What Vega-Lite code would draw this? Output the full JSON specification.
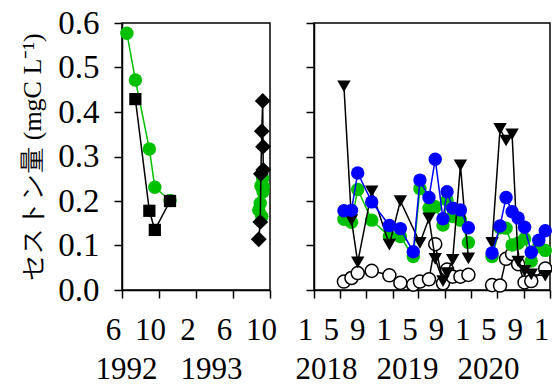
{
  "$schema": "https://vega.github.io/schema/vega-lite/v6.json",
  "padding": {"left": 18, "top": 6, "right": 0, "bottom": 0},
  "background": "white",
  "config": {
    "font": "Times New Roman",
    "view": {"stroke": "#000", "strokeWidth": 1.5},
    "axis": {
      "grid": false,
      "domainColor": "#000",
      "domainWidth": 1.5,
      "tickColor": "#000",
      "tickWidth": 1.5,
      "tickSize": 8,
      "labelFont": "Times New Roman",
      "labelFontSize": 31,
      "labelColor": "#000",
      "titleFont": "Times New Roman",
      "titleFontWeight": "normal",
      "titleColor": "#000"
    }
  },
  "datasets": {
    "early": [
      {"d": "1992-06-17", "s": "G", "v": 0.577, "g": 1},
      {"d": "1992-07-15", "s": "G", "v": 0.472, "g": 1},
      {"d": "1992-08-30", "s": "G", "v": 0.317, "g": 1},
      {"d": "1992-09-17", "s": "G", "v": 0.231, "g": 1},
      {"d": "1992-11-06", "s": "G", "v": 0.201, "g": 1},
      {"d": "1993-08-25", "s": "G", "v": 0.180, "g": 2},
      {"d": "1993-08-30", "s": "G", "v": 0.195, "g": 2},
      {"d": "1993-09-01", "s": "G", "v": 0.234, "g": 2},
      {"d": "1993-09-04", "s": "G", "v": 0.165, "g": 2},
      {"d": "1993-09-07", "s": "G", "v": 0.251, "g": 2},
      {"d": "1993-09-08", "s": "G", "v": 0.221, "g": 2},
      {"d": "1993-09-09", "s": "G", "v": 0.232, "g": 2},
      {"d": "1992-07-15", "s": "S", "v": 0.429, "g": 1},
      {"d": "1992-08-30", "s": "S", "v": 0.178, "g": 1},
      {"d": "1992-09-17", "s": "S", "v": 0.135, "g": 1},
      {"d": "1992-11-06", "s": "S", "v": 0.200, "g": 1},
      {"d": "1993-08-25", "s": "D", "v": 0.114, "g": 2},
      {"d": "1993-08-30", "s": "D", "v": 0.153, "g": 2},
      {"d": "1993-09-01", "s": "D", "v": 0.261, "g": 2},
      {"d": "1993-09-04", "s": "D", "v": 0.357, "g": 2},
      {"d": "1993-09-07", "s": "D", "v": 0.425, "g": 2},
      {"d": "1993-09-08", "s": "D", "v": 0.322, "g": 2},
      {"d": "1993-09-09", "s": "D", "v": 0.270, "g": 2}
    ],
    "recent": [
      {"d": "2018-05-20", "s": "B", "v": 0.178, "g": 1},
      {"d": "2018-06-24", "s": "B", "v": 0.179, "g": 1},
      {"d": "2018-07-23", "s": "B", "v": 0.263, "g": 1},
      {"d": "2018-09-26", "s": "B", "v": 0.198, "g": 1},
      {"d": "2018-12-17", "s": "B", "v": 0.145, "g": 1},
      {"d": "2019-02-06", "s": "B", "v": 0.138, "g": 1},
      {"d": "2019-04-07", "s": "B", "v": 0.086, "g": 1},
      {"d": "2019-05-08", "s": "B", "v": 0.247, "g": 1},
      {"d": "2019-06-19", "s": "B", "v": 0.208, "g": 1},
      {"d": "2019-07-18", "s": "B", "v": 0.294, "g": 1},
      {"d": "2019-08-23", "s": "B", "v": 0.160, "g": 1},
      {"d": "2019-09-11", "s": "B", "v": 0.221, "g": 1},
      {"d": "2019-10-07", "s": "B", "v": 0.184, "g": 1},
      {"d": "2019-11-12", "s": "B", "v": 0.180, "g": 1},
      {"d": "2019-12-19", "s": "B", "v": 0.140, "g": 1},
      {"d": "2020-04-07", "s": "B", "v": 0.083, "g": 2},
      {"d": "2020-05-14", "s": "B", "v": 0.144, "g": 2},
      {"d": "2020-06-11", "s": "B", "v": 0.208, "g": 2},
      {"d": "2020-07-09", "s": "B", "v": 0.176, "g": 2},
      {"d": "2020-08-06", "s": "B", "v": 0.162, "g": 2},
      {"d": "2020-09-05", "s": "B", "v": 0.141, "g": 2},
      {"d": "2020-10-06", "s": "B", "v": 0.085, "g": 2},
      {"d": "2020-11-10", "s": "B", "v": 0.112, "g": 2},
      {"d": "2020-12-10", "s": "B", "v": 0.133, "g": 2},
      {"d": "2018-05-20", "s": "G", "v": 0.159, "g": 1},
      {"d": "2018-06-24", "s": "G", "v": 0.152, "g": 1},
      {"d": "2018-07-23", "s": "G", "v": 0.226, "g": 1},
      {"d": "2018-09-26", "s": "G", "v": 0.157, "g": 1},
      {"d": "2018-12-17", "s": "G", "v": 0.120, "g": 1},
      {"d": "2019-02-06", "s": "G", "v": 0.120, "g": 1},
      {"d": "2019-04-07", "s": "G", "v": 0.075, "g": 1},
      {"d": "2019-05-08", "s": "G", "v": 0.228, "g": 1},
      {"d": "2019-06-19", "s": "G", "v": 0.184, "g": 1},
      {"d": "2019-07-18", "s": "G", "v": 0.187, "g": 1},
      {"d": "2019-08-23", "s": "G", "v": 0.146, "g": 1},
      {"d": "2019-09-11", "s": "G", "v": 0.202, "g": 1},
      {"d": "2019-10-07", "s": "G", "v": 0.165, "g": 1},
      {"d": "2019-11-12", "s": "G", "v": 0.157, "g": 1},
      {"d": "2019-12-19", "s": "G", "v": 0.107, "g": 1},
      {"d": "2020-04-07", "s": "G", "v": 0.075, "g": 2},
      {"d": "2020-05-14", "s": "G", "v": 0.140, "g": 2},
      {"d": "2020-06-11", "s": "G", "v": 0.139, "g": 2},
      {"d": "2020-07-09", "s": "G", "v": 0.101, "g": 2},
      {"d": "2020-08-06", "s": "G", "v": 0.105, "g": 2},
      {"d": "2020-09-05", "s": "G", "v": 0.115, "g": 2},
      {"d": "2020-10-06", "s": "G", "v": 0.065, "g": 2},
      {"d": "2020-11-10", "s": "G", "v": 0.098, "g": 2},
      {"d": "2020-12-10", "s": "G", "v": 0.089, "g": 2},
      {"d": "2018-05-20", "s": "T", "v": 0.458, "g": 1},
      {"d": "2018-06-24", "s": "T", "v": 0.157, "g": 1},
      {"d": "2018-07-23", "s": "T", "v": 0.062, "g": 1},
      {"d": "2018-09-26", "s": "T", "v": 0.222, "g": 1},
      {"d": "2018-12-17", "s": "T", "v": 0.102, "g": 1},
      {"d": "2019-02-06", "s": "T", "v": 0.200, "g": 1},
      {"d": "2019-05-08", "s": "T", "v": 0.106, "g": 1},
      {"d": "2019-06-19", "s": "T", "v": 0.161, "g": 1},
      {"d": "2019-07-18", "s": "T", "v": 0.070, "g": 1},
      {"d": "2019-08-23", "s": "T", "v": 0.020, "g": 1},
      {"d": "2019-09-11", "s": "T", "v": 0.038, "g": 1},
      {"d": "2019-10-07", "s": "T", "v": 0.068, "g": 1},
      {"d": "2019-11-12", "s": "T", "v": 0.280, "g": 1},
      {"d": "2019-12-19", "s": "T", "v": 0.071, "g": 1},
      {"d": "2020-04-07", "s": "T", "v": 0.106, "g": 2},
      {"d": "2020-05-14", "s": "T", "v": 0.362, "g": 2},
      {"d": "2020-06-11", "s": "T", "v": 0.336, "g": 2},
      {"d": "2020-07-09", "s": "T", "v": 0.350, "g": 2},
      {"d": "2020-08-06", "s": "T", "v": 0.064, "g": 2},
      {"d": "2020-09-05", "s": "T", "v": 0.043, "g": 2},
      {"d": "2020-10-06", "s": "T", "v": 0.035, "g": 2},
      {"d": "2020-12-10", "s": "T", "v": 0.032, "g": 2},
      {"d": "2018-05-20", "s": "W", "v": 0.019, "g": 1},
      {"d": "2018-06-24", "s": "W", "v": 0.027, "g": 1},
      {"d": "2018-07-23", "s": "W", "v": 0.038, "g": 1},
      {"d": "2018-09-26", "s": "W", "v": 0.043, "g": 1},
      {"d": "2018-12-17", "s": "W", "v": 0.033, "g": 1},
      {"d": "2019-02-06", "s": "W", "v": 0.016, "g": 1},
      {"d": "2019-04-07", "s": "W", "v": 0.012, "g": 1},
      {"d": "2019-05-08", "s": "W", "v": 0.019, "g": 1},
      {"d": "2019-06-19", "s": "W", "v": 0.024, "g": 1},
      {"d": "2019-07-18", "s": "W", "v": 0.103, "g": 1},
      {"d": "2019-08-23", "s": "W", "v": 0.015, "g": 1},
      {"d": "2019-09-11", "s": "W", "v": 0.046, "g": 1},
      {"d": "2019-10-07", "s": "W", "v": 0.030, "g": 1},
      {"d": "2019-11-12", "s": "W", "v": 0.030, "g": 1},
      {"d": "2019-12-19", "s": "W", "v": 0.034, "g": 1},
      {"d": "2020-04-07", "s": "W", "v": 0.011, "g": 2},
      {"d": "2020-05-14", "s": "W", "v": 0.010, "g": 2},
      {"d": "2020-06-11", "s": "W", "v": 0.070, "g": 2},
      {"d": "2020-07-09", "s": "W", "v": 0.081, "g": 2},
      {"d": "2020-08-06", "s": "W", "v": 0.058, "g": 2},
      {"d": "2020-09-05", "s": "W", "v": 0.017, "g": 2},
      {"d": "2020-10-06", "s": "W", "v": 0.020, "g": 2},
      {"d": "2020-12-10", "s": "W", "v": 0.048, "g": 2}
    ],
    "years_early": [
      {"d": "1992-06-14", "yr": "1992"},
      {"d": "1993-03-21", "yr": "1993"}
    ],
    "years_recent": [
      {"d": "2018-02-26", "yr": "2018"},
      {"d": "2019-03-09", "yr": "2019"},
      {"d": "2020-03-19", "yr": "2020"}
    ]
  },
  "bounds": "flush",
  "spacing": 44,
  "hconcat": [
    {
      "width": 148,
      "height": 267,
      "layer": [
        {
          "data": {"name": "early"},
          "encoding": {
            "x": {
              "field": "d", "type": "temporal",
              "scale": {"type": "utc", "domain": [{"year": 1992, "month": 6, "date": 1, "utc": true}, {"year": 1993, "month": 10, "date": 1, "utc": true}]},
              "axis": {
                "title": null,
                "values": [
                  {"year": 1992, "month": 6, "date": 1, "utc": true},
                  {"year": 1992, "month": 10, "date": 1, "utc": true},
                  {"year": 1993, "month": 2, "date": 1, "utc": true},
                  {"year": 1993, "month": 6, "date": 1, "utc": true},
                  {"year": 1993, "month": 10, "date": 1, "utc": true}
                ],
                "labelExpr": "utcFormat(datum.value, '%-m')",
                "labelPadding": 17,
                "labelOffset": -9,
                "labelFlush": false,
                "labelOverlap": false
              }
            },
            "y": {
              "field": "v", "type": "quantitative",
              "scale": {"domain": [0, 0.6], "nice": false},
              "axis": {
                "title": "セストン量 (mgC L⁻¹)",
                "titleFontSize": 26,
                "titlePadding": 12,
                "values": [0, 0.1, 0.2, 0.3, 0.4, 0.5, 0.6],
                "format": ".1f",
                "labelFontSize": 33,
                "labelPadding": 15
              }
            }
          },
          "layer": [
            {
              "transform": [{"filter": "datum.s === 'G'"}],
              "mark": {"type": "line", "color": "#00c000", "strokeWidth": 1.5},
              "encoding": {"detail": {"field": "g", "type": "nominal"}}
            },
            {
              "transform": [{"filter": "datum.s === 'G'"}],
              "mark": {"type": "point", "shape": "circle", "filled": true, "color": "#00c000", "opacity": 1, "size": 180}
            },
            {
              "transform": [{"filter": "datum.s === 'S' || datum.s === 'D'"}],
              "mark": {"type": "line", "color": "#000", "strokeWidth": 1.5},
              "encoding": {"detail": {"field": "g", "type": "nominal"}}
            },
            {
              "transform": [{"filter": "datum.s === 'S'"}],
              "mark": {"type": "point", "shape": "square", "filled": true, "color": "#000", "opacity": 1, "size": 150}
            },
            {
              "transform": [{"filter": "datum.s === 'D'"}],
              "mark": {"type": "point", "shape": "diamond", "filled": true, "color": "#000", "opacity": 1, "size": 250}
            }
          ]
        },
        {
          "data": {"name": "years_early"},
          "mark": {"type": "point", "opacity": 0},
          "encoding": {
            "x": {
              "field": "d", "type": "temporal",
              "scale": {"type": "utc", "domain": [{"year": 1992, "month": 6, "date": 1, "utc": true}, {"year": 1993, "month": 10, "date": 1, "utc": true}]},
              "axis": {
                "orient": "bottom",
                "title": null,
                "offset": 47,
                "domain": false,
                "ticks": false,
                "values": [
                  {"year": 1992, "month": 6, "date": 14, "utc": true},
                  {"year": 1993, "month": 3, "date": 21, "utc": true}
                ],
                "labelExpr": "utcFormat(datum.value, '%Y')",
                "labelPadding": 17,
                "labelFlush": false,
                "labelOverlap": false
              }
            }
          }
        }
      ],
      "resolve": {"scale": {"x": "independent"}}
    },
    {
      "width": 236,
      "height": 267,
      "layer": [
        {
          "data": {"name": "recent"},
          "encoding": {
            "x": {
              "field": "d", "type": "temporal",
              "scale": {"type": "utc", "domain": [{"year": 2018, "month": 1, "date": 1, "utc": true}, {"year": 2021, "month": 1, "date": 1, "utc": true}]},
              "axis": {
                "title": null,
                "values": [
                  {"year": 2018, "month": 1, "date": 1, "utc": true},
                  {"year": 2018, "month": 5, "date": 1, "utc": true},
                  {"year": 2018, "month": 9, "date": 1, "utc": true},
                  {"year": 2019, "month": 1, "date": 1, "utc": true},
                  {"year": 2019, "month": 5, "date": 1, "utc": true},
                  {"year": 2019, "month": 9, "date": 1, "utc": true},
                  {"year": 2020, "month": 1, "date": 1, "utc": true},
                  {"year": 2020, "month": 5, "date": 1, "utc": true},
                  {"year": 2020, "month": 9, "date": 1, "utc": true},
                  {"year": 2021, "month": 1, "date": 1, "utc": true}
                ],
                "labelExpr": "utcFormat(datum.value, '%-m')",
                "labelPadding": 17,
                "labelOffset": -9,
                "labelFlush": false,
                "labelOverlap": false
              }
            },
            "y": {
              "field": "v", "type": "quantitative",
              "scale": {"domain": [0, 0.6], "nice": false},
              "axis": {
                "title": null,
                "labels": false,
                "values": [0, 0.1, 0.2, 0.3, 0.4, 0.5, 0.6]
              }
            }
          },
          "layer": [
            {
              "transform": [{"filter": "datum.s === 'W'"}],
              "mark": {"type": "line", "color": "#000", "strokeWidth": 1.5},
              "encoding": {"detail": {"field": "g", "type": "nominal"}}
            },
            {
              "transform": [{"filter": "datum.s === 'W'"}],
              "mark": {"type": "point", "shape": "circle", "filled": true, "fill": "#fff", "stroke": "#000", "strokeWidth": 1.5, "opacity": 1, "size": 170}
            },
            {
              "transform": [{"filter": "datum.s === 'G'"}],
              "mark": {"type": "line", "color": "#00c000", "strokeWidth": 1.5},
              "encoding": {"detail": {"field": "g", "type": "nominal"}}
            },
            {
              "transform": [{"filter": "datum.s === 'G'"}],
              "mark": {"type": "point", "shape": "circle", "filled": true, "color": "#00c000", "opacity": 1, "size": 180}
            },
            {
              "transform": [{"filter": "datum.s === 'T'"}],
              "mark": {"type": "line", "color": "#000", "strokeWidth": 1.5},
              "encoding": {"detail": {"field": "g", "type": "nominal"}}
            },
            {
              "transform": [{"filter": "datum.s === 'T'"}],
              "mark": {"type": "point", "shape": "triangle-down", "filled": true, "color": "#000", "opacity": 1, "size": 180}
            },
            {
              "transform": [{"filter": "datum.s === 'B'"}],
              "mark": {"type": "line", "color": "#0000ff", "strokeWidth": 1.5},
              "encoding": {"detail": {"field": "g", "type": "nominal"}}
            },
            {
              "transform": [{"filter": "datum.s === 'B'"}],
              "mark": {"type": "point", "shape": "circle", "filled": true, "color": "#0000ff", "opacity": 1, "size": 180}
            }
          ]
        },
        {
          "data": {"name": "years_recent"},
          "mark": {"type": "point", "opacity": 0},
          "encoding": {
            "x": {
              "field": "d", "type": "temporal",
              "scale": {"type": "utc", "domain": [{"year": 2018, "month": 1, "date": 1, "utc": true}, {"year": 2021, "month": 1, "date": 1, "utc": true}]},
              "axis": {
                "orient": "bottom",
                "title": null,
                "offset": 47,
                "domain": false,
                "ticks": false,
                "values": [
                  {"year": 2018, "month": 2, "date": 26, "utc": true},
                  {"year": 2019, "month": 3, "date": 9, "utc": true},
                  {"year": 2020, "month": 3, "date": 19, "utc": true}
                ],
                "labelExpr": "utcFormat(datum.value, '%Y')",
                "labelPadding": 17,
                "labelFlush": false,
                "labelOverlap": false
              }
            }
          }
        }
      ],
      "resolve": {"scale": {"x": "independent"}}
    }
  ]
}
